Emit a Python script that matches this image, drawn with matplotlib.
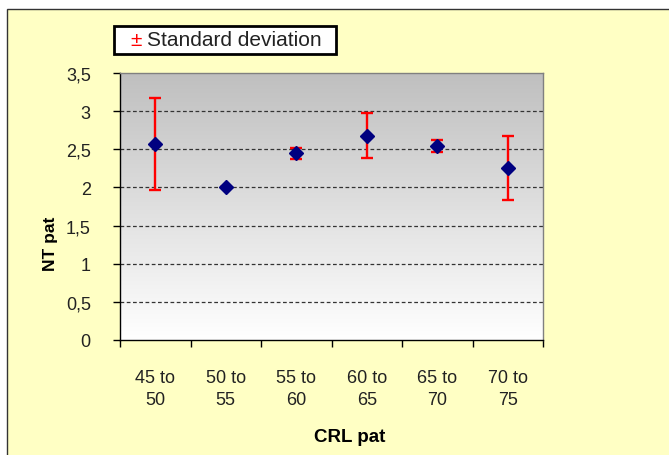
import numpy as np
import matplotlib.pyplot as plt
from matplotlib.patches import Rectangle

plt.rcParams['font.family'] = 'Liberation Sans'

categories = ['45 to\n50', '50 to\n55', '55 to\n60', '60 to\n65', '65 to\n70', '70 to\n75']
nt_mean = [2.57, 2.00, 2.445, 2.68, 2.545, 2.26]
nt_sd = [0.60, 0.0, 0.075, 0.30, 0.075, 0.42]
y_ticks = [0, 0.5, 1, 1.5, 2, 2.5, 3, 3.5]
y_labels = ['0', '0,5', '1', '1,5', '2', '2,5', '3', '3,5']

W, H = 669, 456
fig = plt.figure(figsize=(W / 100, H / 100), dpi=100)
fig.patch.set_facecolor('white')

# yellow chart area (only top and left border visible)
fig.patches.append(Rectangle((7 / W, -0.1), 1.2, (H - 10) / H + 0.1,
                             transform=fig.transFigure, facecolor='#FFFFC4',
                             edgecolor='#333333', lw=1, zorder=-10))

ax = fig.add_axes([120 / W, 115 / H, 423 / W, 267 / H])
x = np.arange(1, len(categories) + 1)

# gray -> white gradient in plot area
grad = np.linspace(0.75, 1.0, 256)
img = np.dstack([grad, grad, grad]).reshape(256, 1, 3)
ax.imshow(img, extent=[0.5, len(categories) + 0.5, 0, 3.5], aspect='auto', zorder=0)

for yv in y_ticks[1:-1]:
    ax.axhline(yv, color='#333333', lw=0.9, linestyle=(0, (3, 2)), zorder=1)

ax.errorbar(x, nt_mean, yerr=nt_sd, fmt='D', color='#000080', ms=7.5,
            ecolor='#FF0000', elinewidth=1.7, capsize=4.5, capthick=1.7, zorder=3)

ax.set_xlim(0.5, len(categories) + 0.5)
ax.set_ylim(0, 3.5)
ax.set_yticks(y_ticks)
ax.set_yticklabels(y_labels)
ax.set_xticks(np.arange(0.5, len(categories) + 1))
ax.set_xticklabels([])
ax.set_xticks(x, minor=True)
ax.set_xticklabels(categories, minor=True, linespacing=1.35)

ax.tick_params(axis='y', length=5, width=1, pad=16, labelsize=13, colors='black')
ax.tick_params(axis='x', which='major', length=5, width=1)
ax.tick_params(axis='x', which='minor', length=0, pad=21, labelsize=13)
for lbl in ax.get_xticklabels(minor=True) + ax.get_yticklabels():
    lbl.set_color('#222222')

for s in ['left', 'bottom']:
    ax.spines[s].set_color('black')
    ax.spines[s].set_linewidth(1)
for s in ['top', 'right']:
    ax.spines[s].set_color('#808080')
    ax.spines[s].set_linewidth(1)

ax.set_ylabel('NT pat', fontsize=12.5, fontweight='bold')
ax.yaxis.set_label_coords(-0.147, 0.363)
ax.set_xlabel('CRL pat', fontsize=13.5, fontweight='bold')
ax.xaxis.set_label_coords(0.544, -0.33)

# legend box
fig.patches.append(Rectangle((114 / W, (H - 55) / H), 222 / W, 28 / H,
                             transform=fig.transFigure, facecolor='white',
                             edgecolor='black', lw=2, zorder=2))
fig.text(130 / W, (H - 41) / H, '±', color='#FF0000', fontsize=15, va='center', zorder=3)
fig.text(147 / W, (H - 41) / H, 'Standard deviation', color='#222222', fontsize=15,
         va='center', zorder=3)

fig.savefig('out.png', dpi=100)
